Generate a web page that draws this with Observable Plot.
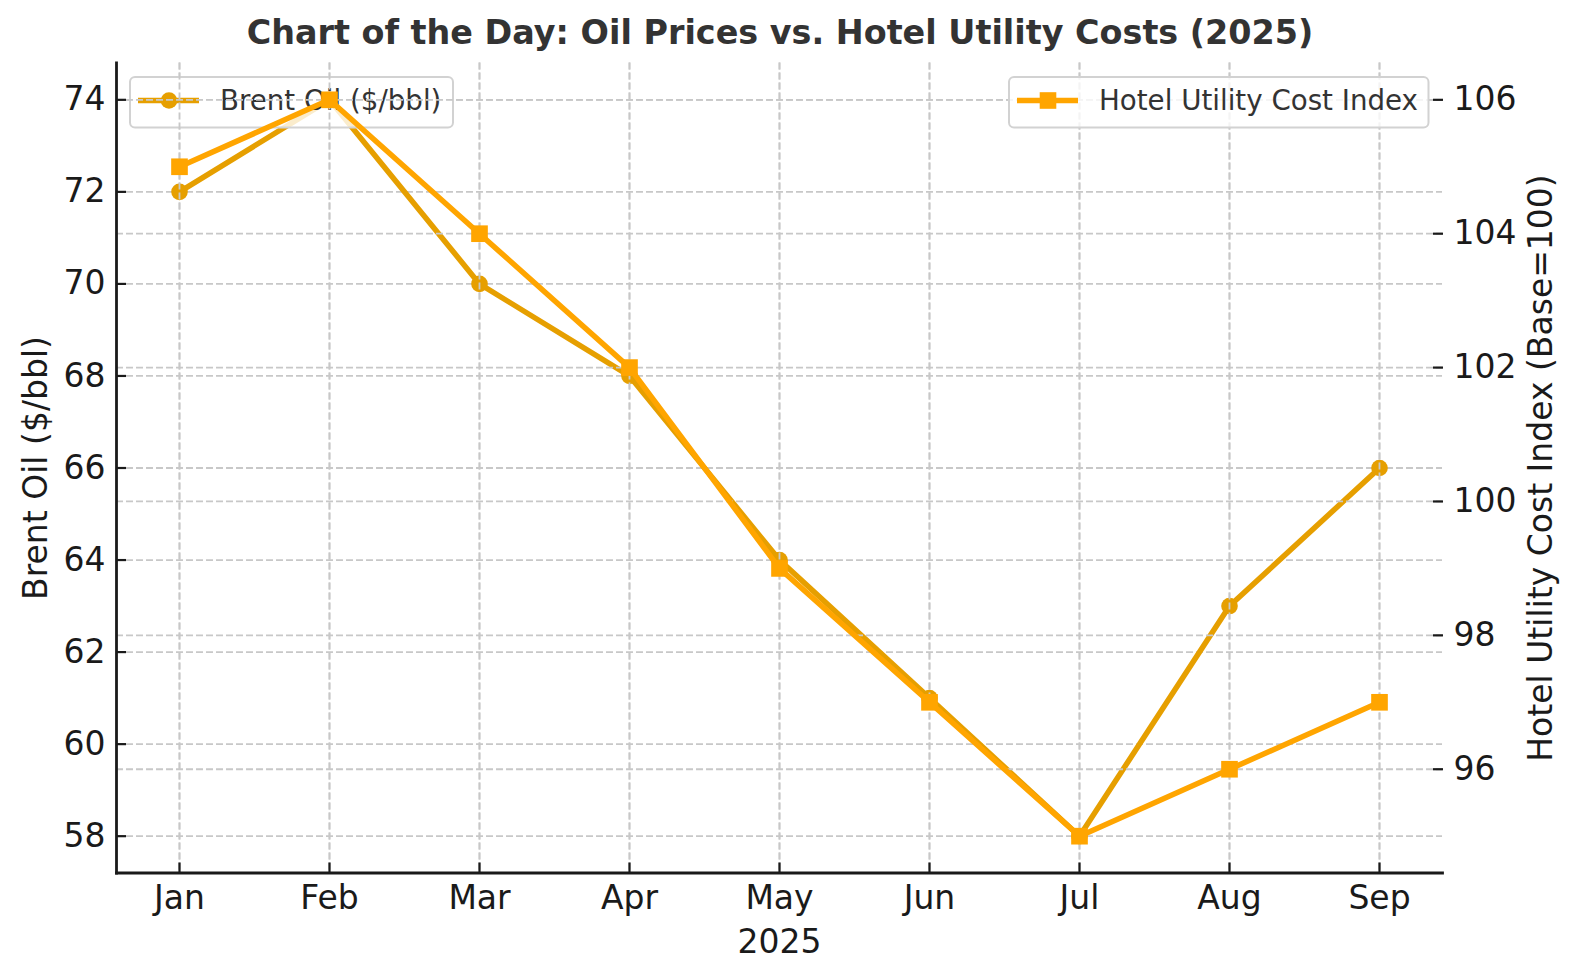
<!DOCTYPE html>
<html><head><meta charset="utf-8">
<script src="https://cdn.jsdelivr.net/npm/d3@7"></script>
<script src="https://cdn.jsdelivr.net/npm/@observablehq/plot@0.6"></script>
<style>
body{margin:0;background:#fff;font-family:"DejaVu Sans",sans-serif;}
#title{width:1560px;height:50px;box-sizing:border-box;padding-top:14px;line-height:38px;text-align:center;font-size:33.4px;font-weight:bold;color:#333;white-space:nowrap;}
</style></head><body>
<div id="title">Chart of the Day: Oil Prices vs. Hotel Utility Costs (2025)</div>
<div id="chart"></div>
<script>
const months = ["Jan","Feb","Mar","Apr","May","Jun","Jul","Aug","Sep"];
const brent = [72,74,70,68,64,61,58,63,66];
const hotel = [105,106,104,102,99,97,95,96,97];
const brentTicks = [58,60,62,64,66,68,70,72,74];
const hotelTicks = [96,98,100,102,104,106];
const seriesNames = ["Brent Oil ($/bbl)", "Hotel Utility Cost Index"];
const axisLabels = {x:"2025", left:"Brent Oil ($/bbl)", right:"Hotel Utility Cost Index (Base=100)"};
const colors = ["#E69F00", "#FFA500"];

const pad = (lo, hi) => [lo - (hi-lo)*0.05, hi + (hi-lo)*0.05];
const bDom = pad(d3.min(brent), d3.max(brent));
const hDom = pad(d3.min(hotel), d3.max(hotel));
const toB = h => bDom[0] + (h - hDom[0]) * (bDom[1]-bDom[0])/(hDom[1]-hDom[0]);
const fromB = b => hDom[0] + (b - bDom[0]) * (hDom[1]-hDom[0])/(bDom[1]-bDom[0]);

const rows = months.map((m,i) => ({month:m, brent:brent[i], hotel:hotel[i], hotelB: toB(hotel[i])}));

const gridStyle = {stroke:"#c8c8c8", strokeOpacity:1, strokeDasharray:"7,3", strokeWidth:1.8};
const axisColor = "#1a1a1a";
const legendWidths = [323, 419.5];

function legendMark(k) {
  return (index, scales, values, dims) => {
    const w = legendWidths[k], h = 50.5;
    const x0 = k === 0 ? dims.marginLeft + 14 : dims.width - dims.marginRight - 13.5 - w;
    const y0 = dims.marginTop + 14.5;
    const cy = y0 + 23.5;
    const g = d3.create("svg:g");
    g.append("rect").attr("x",x0).attr("y",y0).attr("width",w).attr("height",h).attr("rx",5)
      .attr("fill","white").attr("fill-opacity",0.8).attr("stroke","#d2d2d2").attr("stroke-width",2);
    g.append("line").attr("x1",x0+8).attr("x2",x0+69).attr("y1",cy).attr("y2",cy)
      .attr("stroke",colors[k]).attr("stroke-width",5.5);
    if (k === 0) {
      g.append("circle").attr("cx",x0+39).attr("cy",cy).attr("r",8.3).attr("fill",colors[k]);
    } else {
      g.append("rect").attr("x",x0+39-8.3).attr("y",cy-8.3).attr("width",16.6).attr("height",16.6).attr("fill",colors[k]);
    }
    g.append("text").attr("x",x0+90).attr("y",cy).attr("dy","0.36em").attr("text-anchor","start")
      .attr("font-size",27.7).attr("font-family","DejaVu Sans").attr("fill","#333").text(seriesNames[k]);
    return g.node();
  };
}

const chart = Plot.plot({
  width:1580, height:930,
  marginLeft:116, marginRight:138, marginTop:12.5, marginBottom:107.5,
  style:{fontFamily:"DejaVu Sans", fontSize:"33px", color:axisColor, background:"#fff", overflow:"visible"},
  x:{type:"point", domain:months, padding:0.4, axis:null},
  y:{domain:bDom, axis:null},
  marks:[
    Plot.gridX(months, gridStyle),
    Plot.gridY(brentTicks, gridStyle),
    Plot.line(rows, {x:"month", y:"brent", stroke:colors[0], strokeWidth:5.5}),
    Plot.dot(rows, {x:"month", y:"brent", fill:colors[0], r:8.3, symbol:"circle"}),
    legendMark(0),
    Plot.gridX(months, gridStyle),
    Plot.gridY(hotelTicks.map(toB), gridStyle),
    Plot.line(rows, {x:"month", y:"hotelB", stroke:colors[1], strokeWidth:5.5}),
    Plot.dot(rows, {x:"month", y:"hotelB", fill:colors[1], r:9.4, symbol:"square"}),
    legendMark(1),
    Plot.axisX(months, {anchor:"bottom", tickSize:10, insetBottom:10, fill:"none", stroke:axisColor, strokeWidth:2.2, label:null}),
    Plot.axisX(months, {anchor:"bottom", tickSize:0, tickPadding:13, fontSize:33, fill:axisColor, label:null}),
    Plot.axisY(brentTicks, {anchor:"left", tickSize:10, insetLeft:10, fill:"none", stroke:axisColor, strokeWidth:2.2, label:null}),
    Plot.axisY(brentTicks, {anchor:"left", tickSize:0, tickPadding:11, fontSize:33, fill:axisColor, label:null}),
    Plot.axisY(hotelTicks.map(toB), {anchor:"right", tickSize:10, insetRight:10, fill:"none", stroke:axisColor, strokeWidth:2.2, label:null}),
    Plot.axisY(hotelTicks.map(toB), {anchor:"right", tickSize:0, tickPadding:11, fontSize:33, fill:axisColor, label:null,
      tickFormat: d => d3.format("d")(Math.round(fromB(d)))}),
    Plot.frame({anchor:"left", stroke:axisColor, strokeWidth:2.8}),
    Plot.frame({anchor:"bottom", stroke:axisColor, strokeWidth:2.8}),
    Plot.text([axisLabels.left], {frameAnchor:"left", text:d=>d, rotate:-90, dx:-80, textAnchor:"middle", lineAnchor:"middle", fontSize:33, fill:axisColor}),
    Plot.text([axisLabels.right], {frameAnchor:"right", text:d=>d, rotate:-90, dx:99, textAnchor:"middle", lineAnchor:"middle", fontSize:33, fill:axisColor}),
    Plot.text([axisLabels.x], {frameAnchor:"bottom", text:d=>d, dy:69.6, textAnchor:"middle", lineAnchor:"middle", fontSize:33, fill:axisColor})
  ]
});
document.getElementById("chart").appendChild(chart);
</script>
</body></html>
